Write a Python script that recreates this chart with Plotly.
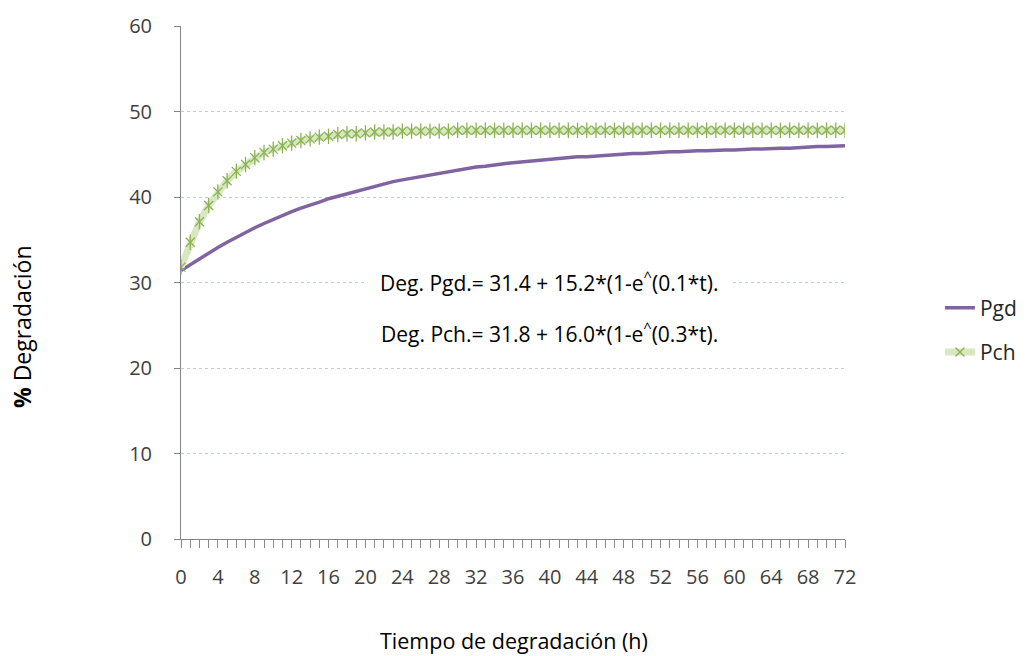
import plotly.graph_objects as go

hours = list(range(0, 73))
tick_labels = [str(h) if h % 4 == 0 else "" for h in hours]

pgd = [31.4, 32.1, 32.8, 33.5, 34.1, 34.7, 35.3, 35.9, 36.4, 36.9,
       37.4, 37.8, 38.3, 38.7, 39.0, 39.4, 39.8, 40.1, 40.4, 40.7,
       41.0, 41.3, 41.5, 41.8, 42.0, 42.2, 42.4, 42.6, 42.8, 43.0,
       43.2, 43.3, 43.5, 43.6, 43.8, 43.9, 44.0, 44.1, 44.2, 44.3,
       44.4, 44.5, 44.6, 44.7, 44.7, 44.8, 44.9, 45.0, 45.0, 45.1,
       45.1, 45.2, 45.2, 45.3, 45.3, 45.4, 45.4, 45.4, 45.5, 45.5,
       45.5, 45.6, 45.6, 45.6, 45.7, 45.7, 45.7, 45.8, 45.8, 45.9,
       45.9, 46.0, 46.0]

pch = [31.8, 34.7, 37.1, 39.0, 40.6, 41.9, 43.0, 43.8, 44.6, 45.2,
       45.6, 46.0, 46.3, 46.6, 46.8, 47.0, 47.1, 47.3, 47.4, 47.4,
       47.5, 47.6, 47.6, 47.6, 47.7, 47.7, 47.7, 47.7, 47.7, 47.7,
       47.8, 47.8, 47.8, 47.8, 47.8, 47.8, 47.8, 47.8, 47.8, 47.8,
       47.8, 47.8, 47.8, 47.8, 47.8, 47.8, 47.8, 47.8, 47.8, 47.8,
       47.8, 47.8, 47.8, 47.8, 47.8, 47.8, 47.8, 47.8, 47.8, 47.8,
       47.8, 47.8, 47.8, 47.8, 47.8, 47.8, 47.8, 47.8, 47.8, 47.8,
       47.8, 47.8, 47.8]

FONT = "Open Sans"
MARK = "#8DB255"

fig = go.Figure()
fig.add_trace(go.Scatter(
    x=hours, y=pgd, name="Pgd", mode="lines",
    line=dict(color="#8064A2", width=3.5),
    legendgroup="a",
))
fig.add_trace(go.Scatter(
    x=hours, y=pch, name="Pch", mode="lines+markers",
    line=dict(color="#D7E7BF", width=7),
    marker=dict(symbol="x-thin-open", size=9, color=MARK,
                line=dict(color=MARK, width=1.3)),
    legendgroup="b",
))
fig.add_trace(go.Scatter(
    x=hours, y=pch, name="Pch", mode="markers", showlegend=False,
    marker=dict(symbol="line-ns-open", size=11, color=MARK,
                line=dict(color=MARK, width=1.3)),
    legendgroup="b", hoverinfo="skip",
))

fig.update_layout(
    width=1034, height=656,
    margin=dict(l=181, r=189, t=26, b=117),
    paper_bgcolor="white", plot_bgcolor="white",
    font=dict(family=FONT, color="#404040"),
    showlegend=True,
    legend=dict(x=1.143, y=0.49, xanchor="left", yanchor="top",
                font=dict(size=21, color="#262626", family=FONT),
                tracegroupgap=14, traceorder="grouped",
                bgcolor="rgba(0,0,0,0)"),
    xaxis=dict(
        range=[0, 72], tickmode="array", tickvals=hours, ticktext=tick_labels,
        ticks="outside", ticklen=8, tickcolor="#868686", tickwidth=1,
        showline=True, linecolor="#868686", linewidth=1,
        showgrid=False, zeroline=False,
        tickfont=dict(size=20, color="#404040", family=FONT),
        ticklabelstandoff=12,
    ),
    yaxis=dict(
        range=[0, 60], dtick=10, tick0=0,
        ticks="outside", ticklen=6, tickcolor="#868686",
        showline=True, linecolor="#868686", linewidth=1,
        showgrid=True, gridcolor="#B9CDE5", griddash="dot", gridwidth=1,
        zeroline=False,
        tickfont=dict(size=20, color="#404040", family=FONT),
        ticklabelstandoff=18,
    ),
    annotations=[
        dict(text="Deg. Pgd.= 31.4 + 15.2*(1-e<sup>^</sup>(0.1*t).",
             xref="paper", yref="paper", x=0.5545, y=0.502,
             xanchor="center", yanchor="middle", showarrow=False,
             bgcolor="white", borderpad=12,
             font=dict(size=21, color="black", family=FONT)),
        dict(text="Deg. Pch.= 31.8 + 16.0*(1-e<sup>^</sup>(0.3*t).",
             xref="paper", yref="paper", x=0.5545, y=0.403,
             xanchor="center", yanchor="middle", showarrow=False,
             bgcolor="white", borderpad=6,
             font=dict(size=21, color="black", family=FONT)),
        dict(text="<b>%</b> Degradación", xref="paper", yref="paper",
             x=-0.2395, y=0.415, textangle=-90, showarrow=False,
             xanchor="center", yanchor="middle",
             font=dict(size=23, color="black", family=FONT)),
        dict(text="Tiempo de degradación (h)", xref="paper", yref="paper",
             x=0.5015, y=-0.197, showarrow=False,
             xanchor="center", yanchor="middle",
             font=dict(size=21.5, color="black", family=FONT)),
    ],
)

fig.write_html("out.html", config={"displayModeBar": False},
               post_script="document.body.style.margin='0px';")
